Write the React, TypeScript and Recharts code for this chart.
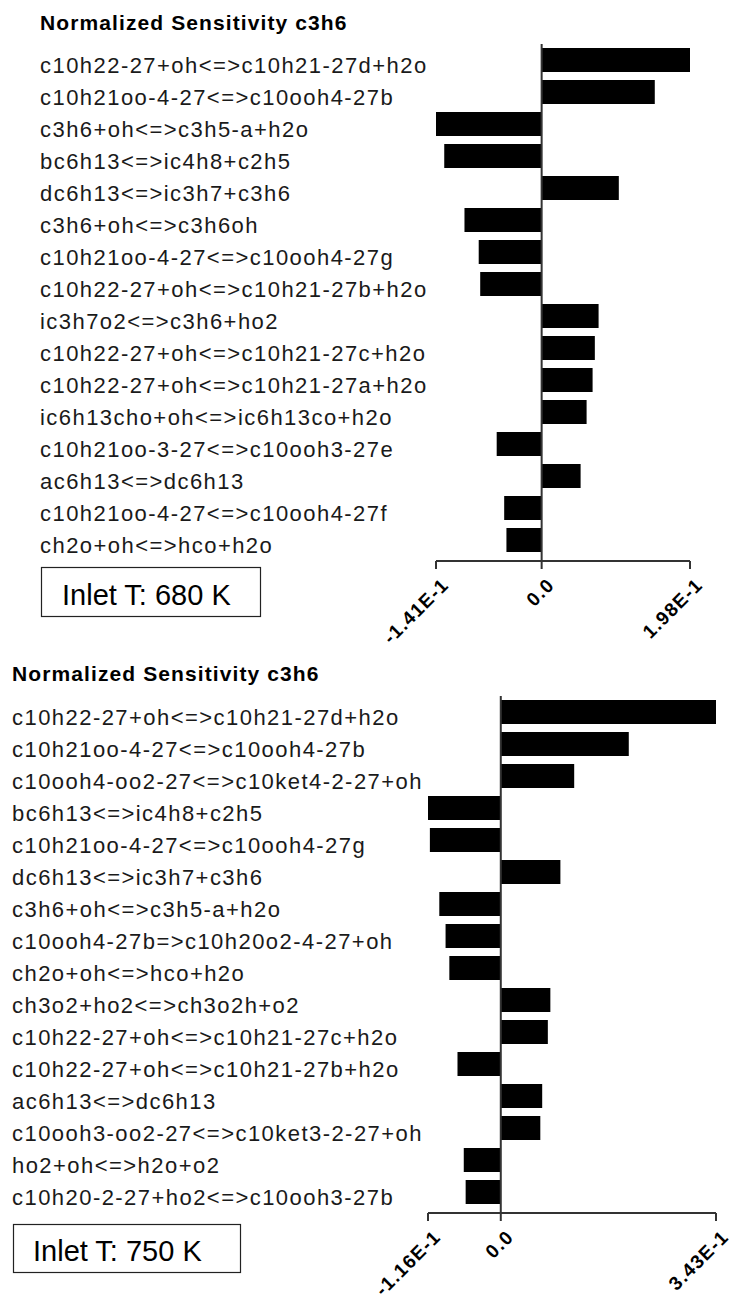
import React from 'react';
import { BarChart, Bar, XAxis, YAxis, ReferenceLine } from 'recharts';

// Reactions and normalized c3h6 sensitivities, inlet temperature 680 K
const reactions680 = [
  'c10h22-27+oh<=>c10h21-27d+h2o',
  'c10h21oo-4-27<=>c10ooh4-27b',
  'c3h6+oh<=>c3h5-a+h2o',
  'bc6h13<=>ic4h8+c2h5',
  'dc6h13<=>ic3h7+c3h6',
  'c3h6+oh<=>c3h6oh',
  'c10h21oo-4-27<=>c10ooh4-27g',
  'c10h22-27+oh<=>c10h21-27b+h2o',
  'ic3h7o2<=>c3h6+ho2',
  'c10h22-27+oh<=>c10h21-27c+h2o',
  'c10h22-27+oh<=>c10h21-27a+h2o',
  'ic6h13cho+oh<=>ic6h13co+h2o',
  'c10h21oo-3-27<=>c10ooh3-27e',
  'ac6h13<=>dc6h13',
  'c10h21oo-4-27<=>c10ooh4-27f',
  'ch2o+oh<=>hco+h2o',
];
const sens680 = [
  0.198, 0.151, -0.141, -0.13, 0.103, -0.103, -0.084, -0.082,
  0.076, 0.071, 0.068, 0.06, -0.06, 0.052, -0.05, -0.047,
];
const ticks680 = [-0.141, 0, 0.198];
const tickLabels680 = ['-1.41E-1', '0.0', '1.98E-1'];

// Reactions and normalized c3h6 sensitivities, inlet temperature 750 K
const reactions750 = [
  'c10h22-27+oh<=>c10h21-27d+h2o',
  'c10h21oo-4-27<=>c10ooh4-27b',
  'c10ooh4-oo2-27<=>c10ket4-2-27+oh',
  'bc6h13<=>ic4h8+c2h5',
  'c10h21oo-4-27<=>c10ooh4-27g',
  'dc6h13<=>ic3h7+c3h6',
  'c3h6+oh<=>c3h5-a+h2o',
  'c10ooh4-27b=>c10h20o2-4-27+oh',
  'ch2o+oh<=>hco+h2o',
  'ch3o2+ho2<=>ch3o2h+o2',
  'c10h22-27+oh<=>c10h21-27c+h2o',
  'c10h22-27+oh<=>c10h21-27b+h2o',
  'ac6h13<=>dc6h13',
  'c10ooh3-oo2-27<=>c10ket3-2-27+oh',
  'ho2+oh<=>h2o+o2',
  'c10h20-2-27+ho2<=>c10ooh3-27b',
];
const sens750 = [
  0.343, 0.204, 0.117, -0.116, -0.113, 0.095, -0.098, -0.088,
  -0.082, 0.079, 0.075, -0.069, 0.066, 0.063, -0.059, -0.056,
];
const ticks750 = [-0.116, 0, 0.343];
const tickLabels750 = ['-1.16E-1', '0.0', '3.43E-1'];

const titleText = 'Normalized Sensitivity c3h6';
const inletLabels = ['Inlet T: 680 K', 'Inlet T: 750 K'];

const SANS = '"Liberation Sans", Arial, Helvetica, sans-serif';

type ChartProps = {
  reactions: string[];
  values: number[];
  ticks: number[];
  tickLabels: string[];
  labelX: number;
  plotLeft: number;
  plotRight: number;
  marginTop: number;
  plotBottom: number;
  height: number;
};

function SensitivityChart({
  reactions,
  values,
  ticks,
  tickLabels,
  labelX,
  plotLeft,
  plotRight,
  marginTop,
  plotBottom,
  height,
}: ChartProps) {
  const data = reactions.map((reaction, i) => ({ reaction, value: values[i] }));
  const xAxisHeight = height - plotBottom;

  // Reaction names, left-aligned in a column at labelX
  const renderReaction = (props: any) => (
    <text
      x={labelX}
      y={props.y + 12.5}
      textAnchor="start"
      fontFamily={SANS}
      fontSize={22}
      letterSpacing={1.45}
      fill="#1a1a1a"
    >
      {props.payload.value}
    </text>
  );

  // Diagonal bold value labels under the axis ticks
  const renderTick = (props: any) => {
    const idx = ticks.indexOf(props.payload.value);
    const label = idx >= 0 ? tickLabels[idx] : String(props.payload.value);
    return (
      <g transform={`translate(${props.x + 14},${props.y + 15})`}>
        <text
          transform="rotate(-45)"
          textAnchor="end"
          fontFamily={SANS}
          fontWeight="bold"
          fontSize={19}
          letterSpacing={1.3}
          fill="#000"
        >
          {label}
        </text>
      </g>
    );
  };

  return (
    <BarChart
      width={732}
      height={height}
      layout="vertical"
      data={data}
      barSize={24}
      style={{ overflow: 'visible' }}
      margin={{ top: marginTop, right: 732 - plotRight, bottom: 0, left: labelX }}
    >
      <XAxis
        type="number"
        domain={[ticks[0], ticks[ticks.length - 1]]}
        ticks={ticks}
        interval={0}
        allowDataOverflow
        height={xAxisHeight}
        tickSize={8}
        axisLine={{ stroke: '#333', strokeWidth: 2 }}
        tickLine={{ stroke: '#333', strokeWidth: 2 }}
        tick={renderTick}
      />
      <YAxis
        type="category"
        dataKey="reaction"
        width={plotLeft - labelX}
        axisLine={false}
        tickLine={false}
        interval={0}
        padding={{ top: 0, bottom: 5 }}
        tick={renderReaction}
      />
      <Bar dataKey="value" fill="#000" isAnimationActive={false} />
      <ReferenceLine x={0} stroke="#333" strokeWidth={2} />
    </BarChart>
  );
}

export default function App() {
  return (
    <div
      style={{
        position: 'absolute',
        left: 0,
        top: 0,
        width: 732,
        height: 1303,
        background: '#fff',
        overflow: 'hidden',
      }}
    >
      <div style={{ position: 'absolute', left: 0, top: 0 }}>
        <SensitivityChart
          reactions={reactions680}
          values={sens680}
          ticks={ticks680}
          tickLabels={tickLabels680}
          labelX={40}
          plotLeft={436}
          plotRight={690}
          marginTop={44}
          plotBottom={561}
          height={655}
        />
      </div>
      <div style={{ position: 'absolute', left: 0, top: 650 }}>
        <SensitivityChart
          reactions={reactions750}
          values={sens750}
          ticks={ticks750}
          tickLabels={tickLabels750}
          labelX={12}
          plotLeft={428}
          plotRight={716}
          marginTop={46}
          plotBottom={563}
          height={653}
        />
      </div>
      <svg
        width={732}
        height={1303}
        style={{ position: 'absolute', left: 0, top: 0, pointerEvents: 'none' }}
      >
        <text x={40} y={30} fontFamily={SANS} fontWeight="bold" fontSize={21} letterSpacing={1.1} fill="#000">
          {titleText}
        </text>
        <text x={12} y={681} fontFamily={SANS} fontWeight="bold" fontSize={21} letterSpacing={1.1} fill="#000">
          {titleText}
        </text>
        <rect x={41.5} y={567.5} width={219} height={49} fill="none" stroke="#222" strokeWidth={1.2} />
        <text x={62} y={605} fontFamily={SANS} fontSize={29} fill="#000">
          {inletLabels[0]}
        </text>
        <rect x={13.5} y={1224.5} width={227} height={48} fill="none" stroke="#222" strokeWidth={1.2} />
        <text x={33} y={1261} fontFamily={SANS} fontSize={29} fill="#000">
          {inletLabels[1]}
        </text>
      </svg>
    </div>
  );
}
